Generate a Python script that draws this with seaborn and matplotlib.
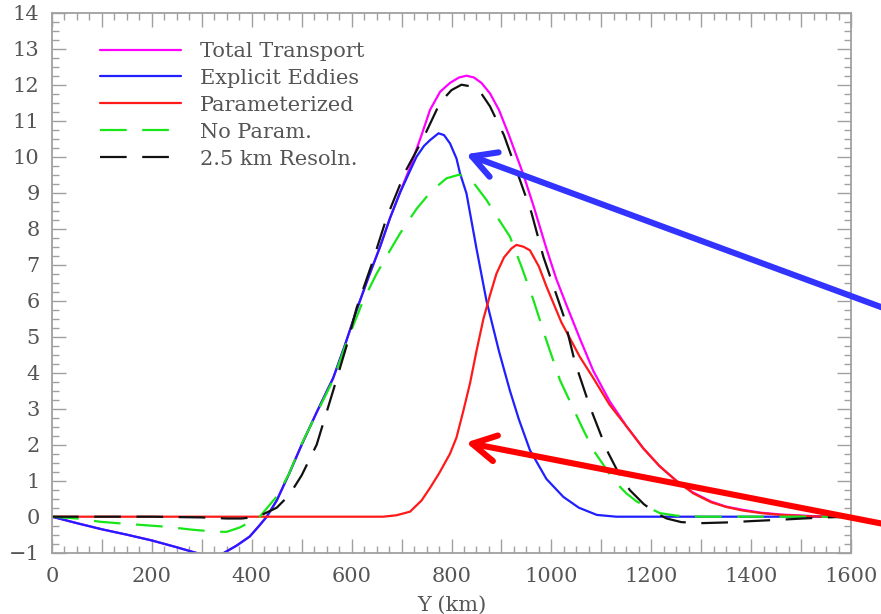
import numpy as np
import pandas as pd
import matplotlib
matplotlib.use("Agg")
import matplotlib.pyplot as plt
import seaborn as sns
from matplotlib.ticker import MultipleLocator, FuncFormatter

# ---------------- data ----------------
x_explicit = [0, 50, 100, 150, 200, 250, 300, 315, 330, 345, 370, 396, 415, 430, 450, 475, 500,
              530, 563, 585, 610, 635, 657, 677, 697, 715, 730, 745, 757, 774, 785, 797, 810,
              817, 830, 850, 870, 895, 917, 935, 957, 990, 1024, 1055, 1091, 1130, 1600]
y_explicit = [0, -0.18, -0.35, -0.5, -0.66, -0.85, -1.05, -1.13, -1.12, -1.0, -0.8, -0.55, -0.25,
              0.0, 0.45, 1.2, 2.0, 2.9, 3.85, 4.7, 5.74, 6.7, 7.5, 8.3, 9.0, 9.55, 10.0, 10.3,
              10.46, 10.65, 10.6, 10.37, 9.95, 9.54, 8.98, 7.45, 6.0, 4.6, 3.5, 2.7, 1.85,
              1.05, 0.55, 0.25, 0.05, 0.0, 0.0]

x_total = [0, 50, 100, 150, 200, 250, 300, 315, 330, 345, 370, 396, 415, 430, 450, 475, 500,
           530, 563, 585, 610, 635, 657, 677, 697, 717, 740, 757, 777, 797, 815, 830, 845, 860,
           877, 895, 915, 944, 965, 990, 1010, 1031, 1057, 1084, 1117, 1151, 1184, 1217, 1250,
           1284, 1320, 1350, 1384, 1420, 1460, 1518, 1560, 1600]
y_total = [0, -0.18, -0.35, -0.5, -0.66, -0.85, -1.05, -1.13, -1.12, -1.0, -0.8, -0.55, -0.25,
           0.0, 0.45, 1.2, 2.0, 2.9, 3.85, 4.7, 5.74, 6.7, 7.5, 8.3, 9.02, 9.7, 10.6, 11.3,
           11.8, 12.05, 12.2, 12.25, 12.2, 12.05, 11.76, 11.3, 10.6, 9.5, 8.6, 7.45, 6.6, 5.85,
           4.95, 4.05, 3.2, 2.5, 1.9, 1.4, 1.0, 0.67, 0.42, 0.28, 0.19, 0.11, 0.06, 0.02, 0.0, 0.0]

x_param = [0, 300, 600, 663, 690, 717, 740, 757, 775, 797, 810, 823, 837, 850, 864, 877, 890,
           905, 920, 930, 944, 957, 975, 990, 1020, 1057, 1084, 1117, 1151, 1184, 1217, 1250,
           1284, 1320, 1350, 1384, 1420, 1460, 1518, 1560, 1600]
y_param = [0, 0, 0, 0.0, 0.04, 0.14, 0.45, 0.8, 1.2, 1.75, 2.2, 2.9, 3.7, 4.6, 5.5, 6.15, 6.75,
           7.2, 7.45, 7.55, 7.5, 7.4, 6.95, 6.4, 5.4, 4.44, 3.85, 3.1, 2.5, 1.9, 1.4, 1.0,
           0.65, 0.4, 0.27, 0.17, 0.1, 0.05, 0.01, 0.0, 0.0]

x_noparam = [0, 50, 96, 150, 200, 230, 280, 330, 350, 376, 400, 416, 450, 475, 497, 530, 563,
             590, 623, 650, 677, 697, 730, 760, 790, 815, 840, 870, 895, 917, 940, 964, 990,
             1017, 1044, 1064, 1084, 1111, 1124, 1150, 1171, 1191, 1217, 1250, 1300, 1600]
y_noparam = [0, -0.05, -0.14, -0.2, -0.25, -0.28, -0.36, -0.42, -0.42, -0.3, -0.12, 0.0, 0.56,
             1.2, 1.94, 2.87, 3.8, 4.85, 6.0, 6.75, 7.4, 7.87, 8.55, 9.05, 9.4, 9.5, 9.35, 8.8,
             8.25, 7.78, 6.95, 6.02, 4.9, 3.8, 3.0, 2.41, 1.85, 1.3, 1.02, 0.65, 0.42, 0.28,
             0.1, 0.03, 0.0, 0.0]

x_hires = [0, 100, 200, 300, 350, 380, 400, 420, 450, 475, 500, 530, 563, 590, 610, 640, 670,
           708, 743, 777, 800, 820, 840, 860, 877, 905, 930, 960, 984, 1024, 1047, 1077, 1111,
           1135, 1157, 1185, 1211, 1231, 1260, 1298, 1350, 1404, 1450, 1504, 1550, 1600]
y_hires = [0, 0, 0, -0.02, -0.05, -0.05, -0.02, 0.05, 0.25, 0.6, 1.15, 2.0, 3.5, 4.75, 5.8,
           7.0, 8.3, 9.6, 10.5, 11.5, 11.85, 12.0, 11.95, 11.75, 11.4, 10.6, 9.63, 8.45, 7.22,
           5.6, 4.3, 3.06, 1.85, 1.2, 0.74, 0.35, 0.09, -0.05, -0.15, -0.18, -0.16, -0.12,
           -0.09, -0.05, -0.02, 0.0]

series_names = ["Total Transport", "Explicit Eddies", "Parameterized", "No Param.", "2.5 km Resoln."]
x_ticks_labeled = [0, 200, 400, 600, 800, 1000, 1200, 1400, 1600]

# ---------------- style ----------------
sns.set_style("ticks")
plt.rcParams["font.family"] = ["DejaVu Serif", "DejaVu Sans"]
TXT = "#555555"
AX = "#a0a0a0"
FS = 15

fig = plt.figure(figsize=(8.81, 6.14), dpi=100)
ax = fig.add_axes([52 / 881, 1 - 552.7 / 614, 799 / 881, (552.7 - 12.7) / 614])

dash = (0, (12, 7))
specs = [
    (x_total, y_total, "#ff00ff", "-"),
    (x_explicit, y_explicit, "#1f1fff", "-"),
    (x_param, y_param, "#ff1a1a", "-"),
    (x_noparam, y_noparam, "#19e619", dash),
    (x_hires, y_hires, "#111111", dash),
]
for name, (xs, ys, col, ls) in zip(series_names, specs):
    df = pd.DataFrame({"Y": xs, "v": ys})
    sns.lineplot(data=df, x="Y", y="v", ax=ax, color=col, linewidth=1.6,
                 linestyle=ls, label=name, estimator=None, sort=False)

ax.set_xlim(0, 1600)
ax.set_ylim(-1, 14)

ax.xaxis.set_major_locator(MultipleLocator(100))
ax.xaxis.set_minor_locator(MultipleLocator(25))
ax.xaxis.set_major_formatter(FuncFormatter(
    lambda v, p: f"{int(round(v))}" if int(round(v)) in x_ticks_labeled else ""))
ax.yaxis.set_major_locator(MultipleLocator(1))
ax.yaxis.set_minor_locator(MultipleLocator(0.25))
ax.yaxis.set_major_formatter(FuncFormatter(lambda v, p: f"{int(round(v))}".replace("-", "\u2212")))

ax.tick_params(which="both", direction="in", top=True, right=True, color=AX, width=1.0,
               labelcolor=TXT, labelsize=FS)
ax.tick_params(which="major", length=10)
ax.tick_params(which="minor", length=5)
ax.tick_params(axis="y", pad=9)
ax.tick_params(axis="x", pad=10)
for s in ax.spines.values():
    s.set_color(AX)
    s.set_linewidth(1.3)

ax.set_xlabel("Y (km)", fontsize=FS, color=TXT, labelpad=7)
ax.set_ylabel("")

leg = ax.legend(loc="upper left", bbox_to_anchor=(0.06, 0.946), frameon=False, fontsize=FS,
                handlelength=3.9, handletextpad=0.9, labelspacing=0.38, borderpad=0,
                borderaxespad=0)
for t in leg.get_texts():
    t.set_color(TXT)

# annotation arrows
ax.annotate("", xy=(829, 10.07), xytext=(1698, 5.63), xycoords="data", textcoords="data",
            annotation_clip=False,
            arrowprops=dict(arrowstyle="->,head_length=1.0,head_width=0.55", mutation_scale=17,
                            lw=4.4, color="#3333ff", shrinkA=0, shrinkB=0,
                            capstyle="round", joinstyle="round", clip_on=False))
ax.annotate("", xy=(829, 2.06), xytext=(1698, -0.29), xycoords="data", textcoords="data",
            annotation_clip=False,
            arrowprops=dict(arrowstyle="->,head_length=1.0,head_width=0.55", mutation_scale=17,
                            lw=4.4, color="#ff0000", shrinkA=0, shrinkB=0,
                            capstyle="round", joinstyle="round", clip_on=False))

fig.savefig("out.png", dpi=100)
